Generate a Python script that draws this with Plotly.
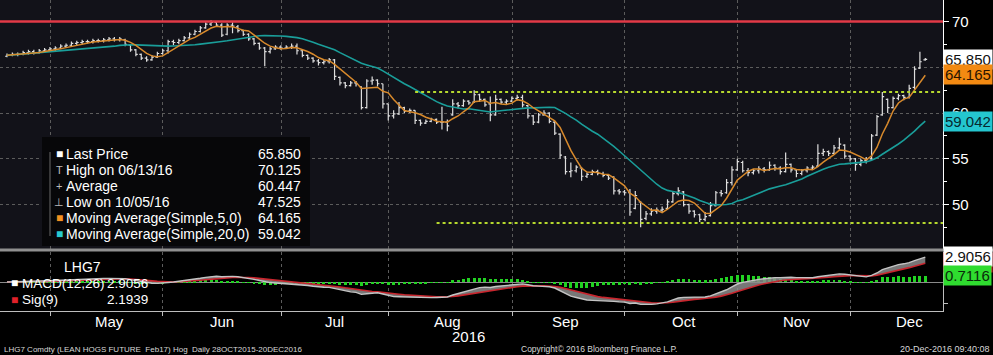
import pandas as pd
import plotly.graph_objects as go

# ---------------- data ----------------
holidays = ["2016-05-30", "2016-07-04", "2016-09-05", "2016-11-24"]
dates = [d for d in pd.bdate_range("2016-04-19", "2016-12-20")
         if d.strftime("%Y-%m-%d") not in holidays]
idx = list(range(len(dates)))

close = [66.3, 66.4, 66.4, 66.6, 66.7, 66.6, 66.8, 66.9, 67.0, 67.1,
         67.3, 67.4, 67.6, 67.7, 67.8, 67.8, 67.9, 67.9, 68.0, 68.1,
         68.0, 68.1, 67.5, 66.9, 66.4, 66.0, 65.8, 66.1, 66.5, 66.8,
         67.8, 67.7, 67.9, 68.2, 68.6, 68.9, 69.3, 69.7, 69.9, 69.6,
         68.5, 69.6, 69.5, 69.0, 68.6, 68.1, 67.6, 67.1, 66.7, 67.0,
         67.2, 67.1, 67.2, 67.3, 66.8, 66.3, 66.0, 65.7, 65.5, 65.6,
         65.8, 64.0, 63.3, 63.0, 63.3, 63.2, 60.6, 63.5, 63.6, 63.2,
         61.0, 59.7, 59.9, 60.6, 60.2, 60.3, 59.2, 58.9, 59.1, 59.3,
         59.0, 59.0, 58.6, 61.0, 60.8, 61.3, 61.1, 62.0, 61.5, 60.9,
         59.8, 61.5, 61.2, 61.3, 61.6, 61.7, 60.9, 59.7, 59.0, 59.8,
         60.0, 59.1, 57.8, 55.4, 53.6, 53.7, 54.1, 53.1, 53.3, 53.6,
         53.4, 53.2, 52.9, 51.5, 51.4, 51.3, 49.2, 51.0, 48.4, 49.0,
         49.3, 49.4, 49.5, 50.3, 51.2, 51.5, 50.0, 49.3, 48.9, 48.4,
         48.7, 49.9, 51.3, 51.2, 52.4, 53.8, 54.7, 53.7, 53.5, 53.7,
         53.9, 53.8, 54.3, 54.0, 53.6, 54.4, 53.8, 53.4, 53.7, 54.0,
         54.1, 55.6, 55.8, 55.6, 56.2, 56.6, 55.3, 55.0, 54.4, 54.8,
         54.9, 57.5, 59.6, 61.8, 60.6, 61.6, 61.9, 61.7, 62.7, 64.8,
         65.6, 65.85]

open_ = [66.2, 66.3, 66.4, 66.4, 66.6, 66.7, 66.6, 66.8, 66.9, 67.0,
         67.1, 67.3, 67.4, 67.6, 67.7, 67.8, 67.8, 67.9, 67.9, 68.0,
         68.1, 68.0, 68.0, 67.4, 66.9, 66.4, 66.0, 65.8, 66.1, 66.5,
         66.8, 67.8, 67.7, 67.9, 68.2, 68.6, 68.9, 69.3, 69.7, 69.9,
         69.6, 68.6, 69.6, 69.4, 69.0, 68.6, 68.1, 67.6, 67.1, 66.7,
         67.0, 67.2, 67.1, 67.2, 67.3, 66.8, 66.3, 66.0, 65.7, 65.5,
         65.6, 65.8, 63.9, 63.3, 63.0, 63.3, 62.9, 60.6, 63.5, 63.6,
         63.2, 61.0, 59.7, 59.9, 60.6, 60.2, 60.3, 59.2, 58.9, 59.1,
         59.3, 59.0, 59.0, 59.8, 61.0, 60.8, 61.3, 61.2, 62.0, 61.5,
         61.0, 59.8, 61.5, 61.2, 61.3, 61.6, 61.7, 60.8, 59.7, 59.0,
         59.8, 60.0, 59.0, 57.7, 55.2, 53.6, 53.7, 54.0, 53.1, 53.3,
         53.6, 53.4, 53.2, 53.0, 51.5, 51.4, 51.3, 49.6, 50.3, 48.5,
         49.0, 49.3, 49.4, 49.6, 50.3, 51.2, 51.4, 50.0, 49.3, 48.9,
         48.4, 48.8, 49.9, 51.3, 51.3, 52.4, 53.8, 54.6, 53.7, 53.5,
         53.7, 53.9, 53.8, 54.3, 54.0, 53.6, 54.4, 53.8, 53.4, 53.7,
         54.0, 54.2, 55.6, 55.8, 55.6, 56.2, 56.5, 55.3, 55.0, 54.4,
         54.8, 55.0, 57.6, 59.8, 61.5, 60.6, 61.6, 61.9, 61.7, 62.8,
         64.9, 65.8]

high = [66.5, 66.6, 66.6, 66.8, 66.9, 66.9, 67.0, 67.1, 67.2, 67.3,
        67.5, 67.6, 67.8, 67.9, 68.0, 68.0, 68.1, 68.1, 68.2, 68.3,
        68.3, 68.3, 68.1, 67.5, 67.0, 66.5, 66.2, 66.3, 66.7, 67.0,
        68.0, 68.0, 68.1, 68.4, 68.8, 69.1, 69.5, 69.9, 70.125, 70.0,
        69.8, 69.8, 69.9, 69.6, 69.1, 68.7, 68.2, 67.7, 67.2, 67.2,
        67.4, 67.4, 67.4, 67.6, 67.6, 66.9, 66.4, 66.1, 65.9, 65.8,
        66.0, 65.9, 64.0, 63.4, 63.5, 63.5, 62.9, 63.7, 64.0, 63.7,
        63.2, 61.0, 60.3, 61.2, 60.7, 60.5, 60.3, 59.3, 59.3, 59.5,
        59.4, 60.7, 59.3, 61.5, 61.2, 61.5, 61.4, 62.5, 62.1, 61.6,
        61.8, 62.0, 61.6, 61.5, 61.8, 62.0, 62.0, 60.9, 59.8, 60.0,
        60.3, 60.1, 59.1, 57.8, 55.3, 54.6, 54.3, 54.1, 53.5, 53.8,
        53.8, 53.6, 53.3, 53.1, 51.7, 51.6, 51.7, 51.5, 50.4, 49.3,
        49.6, 49.7, 49.8, 50.6, 51.4, 51.9, 51.5, 50.1, 49.4, 49.0,
        49.2, 50.3, 51.5, 51.6, 52.8, 54.2, 55.0, 54.8, 54.0, 53.9,
        54.2, 54.1, 54.7, 54.4, 54.2, 55.7, 54.5, 53.9, 53.9, 54.2,
        54.3, 56.6, 56.1, 55.9, 56.5, 57.3, 56.6, 55.4, 55.1, 55.0,
        55.2, 57.7, 59.8, 62.3, 61.6, 61.8, 62.1, 62.0, 63.1, 65.1,
        66.7, 66.0]

low = [66.1, 66.2, 66.2, 66.3, 66.4, 66.4, 66.5, 66.6, 66.7, 66.8,
       67.0, 67.1, 67.2, 67.4, 67.5, 67.6, 67.6, 67.7, 67.7, 67.8,
       67.8, 67.8, 67.3, 66.7, 66.2, 65.8, 65.6, 65.7, 66.0, 66.4,
       66.5, 67.4, 67.5, 67.8, 68.1, 68.5, 68.8, 69.2, 69.5, 69.4,
       68.3, 68.5, 68.7, 68.8, 68.4, 67.9, 67.4, 66.9, 65.1, 66.5,
       66.9, 66.9, 67.0, 67.0, 66.4, 66.1, 65.8, 65.5, 65.2, 65.3,
       65.4, 63.6, 63.0, 62.7, 62.9, 62.9, 60.4, 60.5, 63.1, 62.9,
       60.5, 59.2, 59.4, 59.8, 60.0, 60.0, 58.8, 58.6, 58.8, 59.0,
       58.8, 58.2, 58.0, 59.7, 60.5, 60.7, 60.9, 61.1, 61.2, 60.7,
       59.1, 59.7, 61.0, 61.0, 61.2, 61.4, 60.6, 59.4, 58.7, 58.9,
       59.7, 58.9, 57.6, 55.0, 53.3, 53.0, 53.5, 52.6, 52.9, 53.2,
       53.2, 53.0, 52.7, 51.1, 51.1, 51.0, 48.8, 49.5, 47.525, 48.3,
       48.8, 49.0, 49.2, 49.5, 50.2, 51.0, 49.8, 49.0, 48.6, 48.1,
       48.2, 48.7, 49.8, 50.9, 51.2, 52.1, 53.7, 53.5, 53.1, 53.3,
       53.4, 53.5, 53.7, 53.7, 53.3, 53.5, 53.5, 53.0, 53.2, 53.5,
       53.8, 54.1, 55.3, 55.3, 55.5, 56.0, 55.0, 54.7, 53.7, 54.2,
       54.5, 54.9, 57.5, 59.7, 60.0, 60.5, 61.4, 61.4, 61.6, 62.6,
       64.8, 65.7]

resistance_level = [70.0]
support_levels = [62.3, 48.0]
support_start = [76, 80]

legend_labels = ["Last Price", "High on 06/13/16", "Average", "Low on 10/05/16",
                 "Moving Average(Simple,5,0)", "Moving Average(Simple,20,0)"]
legend_values = ["65.850", "70.125", "60.447", "47.525", "64.165", "59.042"]
last_values = {"last": 65.850, "ma5": 64.165, "ma20": 59.042,
               "macd": 2.9056, "sig": 2.1939, "hist": 0.7116}

month_names = ["Jan", "Feb", "Mar", "Apr", "May", "Jun", "Jul", "Aug",
               "Sep", "Oct", "Nov", "Dec"]
price_ticks = [50, 55, 60, 65, 70]
price_tick_text = ["50", "55", "60", "", "70"]
price_minor = [47.5, 52.5, 57.5, 62.5, 67.5]

# ---------------- indicators ----------------
s = pd.Series(close)
ma5 = s.rolling(5, min_periods=1).mean()
ma20 = s.rolling(20, min_periods=1).mean()
ema12 = s.ewm(span=12, adjust=False).mean()
ema26 = s.ewm(span=26, adjust=False).mean()
macd = ema12 - ema26
sig = macd.ewm(span=9, adjust=False).mean()
hist = macd - sig

# month grid / labels
grid_pos, label_pos, label_txt = [], [], []
for i, d in enumerate(dates):
    if i > 0 and d.month != dates[i - 1].month:
        grid_pos.append(i - 0.95)
for m in sorted(set((d.year, d.month) for d in dates)):
    ids = [i for i, d in enumerate(dates) if (d.year, d.month) == m]
    if ids[0] == 0:
        continue
    mid = [i for i in ids if dates[i].day >= 15]
    label_pos.append(mid[0] if mid else ids[-1])
    label_txt.append(month_names[m[1] - 1])

XR = [-1.3, 174.3]
W, H = 993, 355
PLOT_W = 943  # plot-area width in px (paper x spans this)
FONT = "Liberation Sans, Arial, sans-serif"

def px(x):
    return x / PLOT_W

def py(y):
    return 1 - y / H

fig = go.Figure()

# main price bars
fig.add_trace(go.Ohlc(x=idx, open=open_, high=high, low=low, close=close,
                      increasing=dict(line=dict(color="#dedede", width=1.2)),
                      decreasing=dict(line=dict(color="#dedede", width=1.2)),
                      tickwidth=0.35, hoverinfo="skip", showlegend=False,
                      xaxis="x", yaxis="y"))
fig.add_trace(go.Scatter(x=idx, y=ma20, mode="lines",
                         line=dict(color="#1a9e9a", width=1.6), xaxis="x", yaxis="y"))
fig.add_trace(go.Scatter(x=idx, y=ma5, mode="lines",
                         line=dict(color="#d88a2c", width=1.5), xaxis="x", yaxis="y"))
for lvl, st in zip(support_levels, support_start):
    fig.add_trace(go.Scatter(x=[st, XR[1]], y=[lvl, lvl], mode="lines",
                             line=dict(color="#b6d82e", width=2, dash="dot"),
                             xaxis="x", yaxis="y"))

# MACD panel
fig.add_trace(go.Bar(x=idx, y=hist, marker=dict(color="#22d322", line=dict(width=0)),
                     width=0.55, xaxis="x2", yaxis="y2"))
fig.add_trace(go.Scatter(x=idx, y=sig, mode="lines", line=dict(color="#c8262e", width=1.6),
                         xaxis="x2", yaxis="y2"))
fig.add_trace(go.Scatter(x=idx, y=macd, mode="lines", line=dict(color="#c4c4c4", width=1.4),
                         fill="tonexty", fillcolor="rgba(140,140,140,0.85)",
                         xaxis="x2", yaxis="y2"))

shapes = [
    dict(type="rect", xref="x domain", yref="y domain", x0=0, x1=1, y0=0, y1=1,
         fillcolor="#121219", line=dict(width=0), layer="below"),
    dict(type="line", xref="x domain", yref="y", x0=0, x1=1,
         y0=resistance_level[0], y1=resistance_level[0],
         line=dict(color="#e23a47", width=2.5)),
    dict(type="line", xref="paper", yref="paper", x0=0, x1=px(W), y0=py(250), y1=py(250),
         line=dict(color="#8f8f8f", width=3)),
    dict(type="rect", xref="paper", yref="paper", x0=px(42), x1=px(310),
         y0=py(246), y1=py(137), fillcolor="#070709", line=dict(width=0), layer="above"),
    dict(type="line", xref="paper", yref="paper", x0=px(50), x1=px(50),
         y0=py(236), y1=py(152), line=dict(color="#6a6a6a", width=1)),
]

ann = []
legend_icons = [("■", "#ffffff"), ("T", "#bbbbbb"), ("+", "#bbbbbb"),
                ("⊥", "#bbbbbb"), ("■", "#f39221"), ("■", "#27c9cf")]
for k, (lab, val) in enumerate(zip(legend_labels, legend_values)):
    yy = py(154 + k * 16.0)
    ic, icc = legend_icons[k]
    ann.append(dict(x=px(59), y=yy, xref="paper", yref="paper", text=ic, showarrow=False,
                    xanchor="center", yanchor="middle",
                    font=dict(size=12 if ic == "■" else 11, color=icc)))
    ann.append(dict(x=px(64), y=yy, xref="paper", yref="paper", text=lab, showarrow=False,
                    xanchor="left", yanchor="middle", font=dict(size=14, color="white")))
    ann.append(dict(x=px(303), y=yy, xref="paper", yref="paper", text=val, showarrow=False,
                    xanchor="right", yanchor="middle", font=dict(size=14, color="white")))

# MACD legend
ann.append(dict(x=px(62), y=py(267), xref="paper", yref="paper", text="LHG7", showarrow=False,
                xanchor="left", yanchor="middle", font=dict(size=14, color="white")))
for k, (lab, val, col) in enumerate([("MACD(12,26)", f"{last_values['macd']:.4f}", "#ffffff"),
                                     ("Sig(9)", f"{last_values['sig']:.4f}", "#e0212a")]):
    yy = py(283 + k * 16.5)
    ann.append(dict(x=px(15), y=yy, xref="paper", yref="paper", text="■", showarrow=False,
                    xanchor="center", yanchor="middle", font=dict(size=12, color=col)))
    ann.append(dict(x=px(20), y=yy, xref="paper", yref="paper", text=lab, showarrow=False,
                    xanchor="left", yanchor="middle", font=dict(size=13.5, color="white")))
    ann.append(dict(x=px(150), y=yy, xref="paper", yref="paper", text=val, showarrow=False,
                    xanchor="right", yanchor="middle", font=dict(size=13.5, color="white")))

# right-edge value labels
def tag(y, yref, text, bg, fg):
    return dict(x=1.0, xref="paper", y=y, yref=yref, text=text, showarrow=False,
                xanchor="left", yanchor="middle", bgcolor=bg, borderpad=1,
                font=dict(size=15, color=fg))

ann.append(tag(last_values["last"], "y", f"{last_values['last']:.3f}", "#ffffff", "#111111"))
ann.append(tag(last_values["ma5"], "y", f"{last_values['ma5']:.3f}", "#f38a12", "#2a1400"))
ann.append(tag(last_values["ma20"], "y", f"{last_values['ma20']:.3f}", "#24c6cf", "#062a30"))
ann.append(tag(last_values["sig"], "y2", f"{last_values['sig']:.4f}", "#e0212a", "#ffffff"))
ann.append(tag(last_values["macd"], "y2", f"{last_values['macd']:.4f}", "#ffffff", "#111111"))
ann.append(tag(last_values["hist"], "y2", f"{last_values['hist']:.4f}", "#2fdc2f", "#0a2a0a"))

# month labels (below MACD panel), year label and footer
for pos, txt in zip(label_pos, label_txt):
    ann.append(dict(x=pos, xref="x2", y=py(321), yref="paper", text=txt, showarrow=False,
                    xanchor="center", yanchor="middle", font=dict(size=15, color="white")))
aug_pos = label_pos[label_txt.index("Aug")]
ann.append(dict(x=aug_pos + 4, xref="x2", y=py(336), yref="paper", text="2016",
                showarrow=False, xanchor="center", yanchor="middle",
                font=dict(size=15, color="white")))
ann.append(dict(x=px(2), y=py(349), xref="paper", yref="paper",
                text="LHG7 Comdty (LEAN HOGS FUTURE  Feb17) Hog  Daily 28OCT2015-20DEC2016",
                showarrow=False, xanchor="left", yanchor="middle",
                font=dict(size=8, color="#d8d8d8")))
ann.append(dict(x=px(599), y=py(349), xref="paper", yref="paper",
                text="Copyright© 2016 Bloomberg Finance L.P.",
                showarrow=False, xanchor="center", yanchor="middle",
                font=dict(size=8.5, color="#d8d8d8")))
ann.append(dict(x=px(W - 1), y=py(349), xref="paper", yref="paper",
                text="20-Dec-2016 09:40:08",
                showarrow=False, xanchor="right", yanchor="middle",
                font=dict(size=9, color="#d8d8d8")))

grid_col = "#5c5c5c"
fig.update_layout(
    width=W, height=H, margin=dict(l=0, r=W - PLOT_W, t=0, b=0),
    paper_bgcolor="#000000", plot_bgcolor="#000000", showlegend=False,
    font=dict(family=FONT, color="white"),
    bargap=0,
    xaxis=dict(domain=[0, 1], anchor="y", range=XR, showticklabels=False, ticks="",
               tickmode="array", tickvals=label_pos, showgrid=False, zeroline=False,
               showline=False, rangeslider=dict(visible=False),
               minor=dict(tickmode="array", tickvals=grid_pos, showgrid=True,
                          gridcolor=grid_col, griddash="dot", gridwidth=1, ticks="")),
    yaxis=dict(domain=[py(249), 1], anchor="x", range=[45.16, 72.34], side="right",
               tickmode="array", tickvals=price_ticks, ticktext=price_tick_text,
               ticks="outside", ticklen=5,
               tickcolor="white", tickfont=dict(size=15, color="white"),
               showgrid=True, gridcolor=grid_col, griddash="dot", zeroline=False,
               showline=True, linecolor="white", linewidth=1,
               minor=dict(tickmode="array", tickvals=price_minor, ticks="outside",
                          ticklen=3, tickcolor="white", showgrid=False)),
    xaxis2=dict(domain=[0, 1], anchor="y2", range=XR, tickmode="array",
                tickvals=label_pos, showticklabels=False, ticks="", showgrid=False,
                zeroline=False, showline=True, linecolor="#bdbdbd", linewidth=1,
                minor=dict(tickmode="array", tickvals=grid_pos, ticks="outside",
                           ticklen=4, tickcolor="#bdbdbd", showgrid=True,
                           gridcolor=grid_col, griddash="dot")),
    yaxis2=dict(domain=[py(311), py(252)], anchor="x2", range=[-3.33, 3.45], side="right",
                tickmode="array", tickvals=[-2.5, 0, 2.5], showticklabels=False,
                ticks="outside", ticklen=4, tickcolor="#bdbdbd", showgrid=False,
                zeroline=True, zerolinecolor="#8a8a8a", zerolinewidth=1,
                showline=True, linecolor="#bdbdbd", linewidth=1),
    shapes=shapes, annotations=ann,
)

fig.write_html("out.html")
